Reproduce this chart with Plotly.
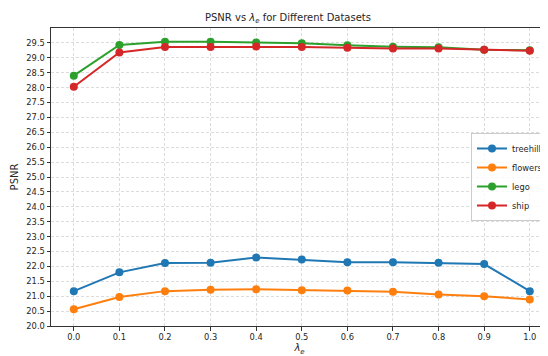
import plotly.graph_objects as go

lambdas = [0.0, 0.1, 0.2, 0.3, 0.4, 0.5, 0.6, 0.7, 0.8, 0.9, 1.0]
treehill = [21.17, 21.80, 22.11, 22.12, 22.30, 22.23, 22.14, 22.14, 22.12, 22.08, 21.17]
flowers = [20.56, 20.97, 21.17, 21.22, 21.23, 21.20, 21.19, 21.15, 21.06, 21.00, 20.89]
lego = [28.40, 29.43, 29.54, 29.54, 29.51, 29.49, 29.42, 29.37, 29.35, 29.27, 29.25]
ship = [28.03, 29.18, 29.36, 29.36, 29.38, 29.36, 29.34, 29.31, 29.31, 29.27, 29.24]

series = [("treehill", treehill, "#1f77b4"),
          ("flowers", flowers, "#ff7f0e"),
          ("lego", lego, "#2ca02c"),
          ("ship", ship, "#d62728")]

x_ticks = [round(i * 0.1, 1) for i in range(11)]
y_ticks = [20 + 0.5 * i for i in range(20)]

fig = go.Figure()
for name, vals, col in series:
    fig.add_trace(go.Scatter(x=lambdas, y=vals, name=name, mode="lines+markers",
                             line=dict(color=col, width=2),
                             marker=dict(color=col, size=8)))

axis_common = dict(showline=True, linecolor="#333", linewidth=1,
                   showgrid=True, gridcolor="#dcdcdc", griddash="3px,2px", gridwidth=1,
                   ticks="outside", ticklen=3.5, tickcolor="#333",
                   tickfont=dict(family="DejaVu Sans", size=8.3, color="#262626"),
                   zeroline=False)

# the page body has an 8px margin, so the figure is offset by 8px
fig.update_layout(
    width=548, height=356,
    margin=dict(l=43, r=8, t=20, b=38),
    paper_bgcolor="white", plot_bgcolor="white",
    font=dict(family="DejaVu Sans", color="#262626"),
    title=dict(text="PSNR vs <i>λ</i><sub><i>e</i></sub> for Different Datasets",
               x=280 / 548, xanchor="center", xref="container",
               y=1 - 9.5 / 356, yanchor="middle",
               font=dict(size=10, family="DejaVu Sans", color="#262626")),
    xaxis=dict(range=[-0.05, 1.04], tickvals=x_ticks,
               ticktext=[f"{v:.1f}" for v in x_ticks], mirror=True,
               title=dict(text="<i>λ</i><sub><i>e</i></sub>", standoff=2,
                          font=dict(size=10, family="DejaVu Sans")),
               automargin=False, **axis_common),
    yaxis=dict(range=[20, 30], tickvals=y_ticks,
               ticktext=[f"{v:.1f}" for v in y_ticks],
               title=dict(text="PSNR", standoff=5, font=dict(size=10, family="DejaVu Sans")),
               automargin=False, **axis_common),
    legend=dict(x=1.0, xanchor="right", y=0.5, yanchor="middle",
                bgcolor="rgba(255,255,255,0.8)", bordercolor="#cccccc", borderwidth=1,
                font=dict(size=8.3, family="DejaVu Sans", color="#262626"),
                itemwidth=30, tracegroupgap=0),
)

fig.write_html("out.html")
